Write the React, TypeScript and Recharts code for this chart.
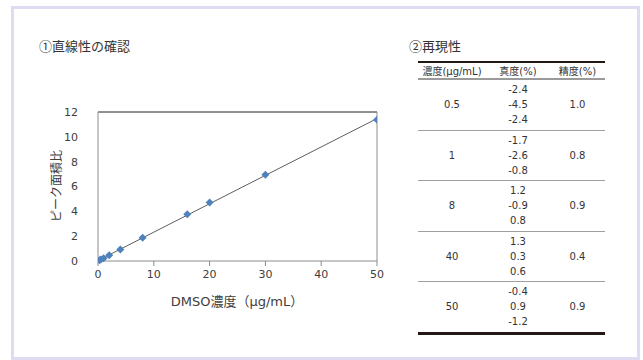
import { ComposedChart, Line, Scatter, XAxis, YAxis, ReferenceLine } from "recharts";

// ① linearity
const concX = [0.25, 0.5, 1, 2, 4, 8, 16, 20, 30, 50];
const peakRatio = [0.06, 0.12, 0.23, 0.46, 0.93, 1.88, 3.76, 4.72, 6.95, 11.38];
const xTicks = [0, 10, 20, 30, 40, 50];
const yTicks = [0, 2, 4, 6, 8, 10, 12];

// ② reproducibility
const tableHeader = ["濃度(μg/mL)", "真度(%)", "精度(%)"];
const repConc = ["0.5", "1", "8", "40", "50"];
const repAccuracy = [
  ["-2.4", "-4.5", "-2.4"],
  ["-1.7", "-2.6", "-0.8"],
  ["1.2", "-0.9", "0.8"],
  ["1.3", "0.3", "0.6"],
  ["-0.4", "0.9", "-1.2"],
];
const repPrecision = ["1.0", "0.8", "0.9", "0.4", "0.9"];

const points = concX.map((x, i) => ({ x, y: peakRatio[i] }));

// least squares trend line
const n = points.length;
const mx = concX.reduce((a, b) => a + b, 0) / n;
const my = peakRatio.reduce((a, b) => a + b, 0) / n;
const slope =
  points.reduce((a, p) => a + (p.x - mx) * (p.y - my), 0) /
  points.reduce((a, p) => a + (p.x - mx) * (p.x - mx), 0);
const intercept = my - slope * mx;
const trend = [0, 50].map((x) => ({ x, t: intercept + slope * x }));

const FONT = '"DejaVu Sans", "Noto Sans CJK JP", sans-serif';
const CJK = '"Noto Sans CJK JP", "DejaVu Sans", sans-serif';
const TEXT = "#404040";

const Diamond = (props: any) => {
  const { cx, cy } = props;
  if (cx == null || cy == null) return null;
  const r = 4;
  return (
    <polygon
      points={`${cx},${cy - r} ${cx + r},${cy} ${cx},${cy + r} ${cx - r},${cy}`}
      fill="#4f81bd"
    />
  );
};

const colStyle = (w: number): React.CSSProperties => ({
  width: w,
  display: "flex",
  flexDirection: "column",
  justifyContent: "center",
  alignItems: "center",
});

export default function App() {
  return (
    <div
      style={{
        position: "absolute",
        left: 0,
        top: 0,
        width: 643,
        height: 360,
        background: "#fff",
        fontFamily: FONT,
        color: TEXT,
        overflow: "hidden",
      }}
    >
      <div
        style={{
          position: "absolute",
          left: 11,
          top: 6,
          width: 629,
          height: 354,
          boxSizing: "border-box",
          border: "3px solid #dedcf0",
        }}
      />
      <div style={{ position: "absolute", left: 39, top: 36, fontSize: 13, fontFamily: CJK, fontWeight: 400, color: "#333" }}>
        ①直線性の確認
      </div>
      <div style={{ position: "absolute", left: 409, top: 36, fontSize: 13, fontFamily: CJK, fontWeight: 400, color: "#333" }}>
        ②再現性
      </div>

      <div style={{ position: "absolute", left: 40, top: 100 }}>
        <ComposedChart
          width={350}
          height={215}
          margin={{ top: 12, right: 13, left: 0, bottom: 0 }}
        >
          <XAxis
            dataKey="x"
            type="number"
            domain={[0, 50]}
            ticks={xTicks}
            allowDataOverflow
            height={54}
            stroke="#8c8c8c"
            tickSize={5}
            tickMargin={4}
            tick={{ fill: TEXT, fontSize: 11, fontFamily: FONT }}
          />
          <YAxis
            type="number"
            domain={[0, 12]}
            ticks={yTicks}
            width={58}
            stroke="#8c8c8c"
            tickLine={false}
            tickMargin={14}
            tick={{ fill: TEXT, fontSize: 11, fontFamily: FONT }}
          />
          <ReferenceLine y={12} stroke="#222" strokeWidth={1} />
          <ReferenceLine x={50} stroke="#8c8c8c" strokeWidth={1} />
          <Line
            data={trend}
            dataKey="t"
            type="linear"
            stroke="#333"
            strokeWidth={0.8}
            dot={false}
            isAnimationActive={false}
          />
          <Scatter
            data={points}
            dataKey="y"
            shape={Diamond}
            isAnimationActive={false}
          />
        </ComposedChart>
      </div>

      <div
        style={{
          position: "absolute",
          left: 55,
          top: 186,
          fontSize: 12,
          fontFamily: CJK,
          transform: "translate(-50%, -50%) rotate(-90deg)",
          whiteSpace: "nowrap",
        }}
      >
        ピーク面積比
      </div>
      <div
        style={{
          position: "absolute",
          left: 237,
          top: 300,
          fontSize: 13,
          transform: "translate(-50%, -50%)",
          whiteSpace: "nowrap",
        }}
      >
        DMSO濃度（μg/mL）
      </div>

      <div
        style={{
          position: "absolute",
          left: 418,
          top: 61,
          width: 187,
          fontSize: 10,
          color: "#333",
        }}
      >
        <div style={{ borderTop: "2px solid #231815", borderBottom: "2px solid #9a9a9a", display: "flex", height: 15, alignItems: "center" }}>
          {tableHeader.map((h, i) => (
            <div key={h} style={{ ...colStyle([68, 64, 55][i]), height: 15 }}>
              {h}
            </div>
          ))}
        </div>
        {repConc.map((c, g) => (
          <div
            key={c}
            style={{
              display: "flex",
              height: 49.5,
              borderBottom:
                g === repConc.length - 1 ? "3px solid #231815" : "1.5px solid #a0a0a0",
            }}
          >
            <div style={colStyle(68)}>{c}</div>
            <div style={colStyle(64)}>
              {repAccuracy[g].map((v, k) => (
                <div key={k} style={{ height: 15, lineHeight: "15px" }}>
                  {v}
                </div>
              ))}
            </div>
            <div style={colStyle(55)}>{repPrecision[g]}</div>
          </div>
        ))}
      </div>
    </div>
  );
}
